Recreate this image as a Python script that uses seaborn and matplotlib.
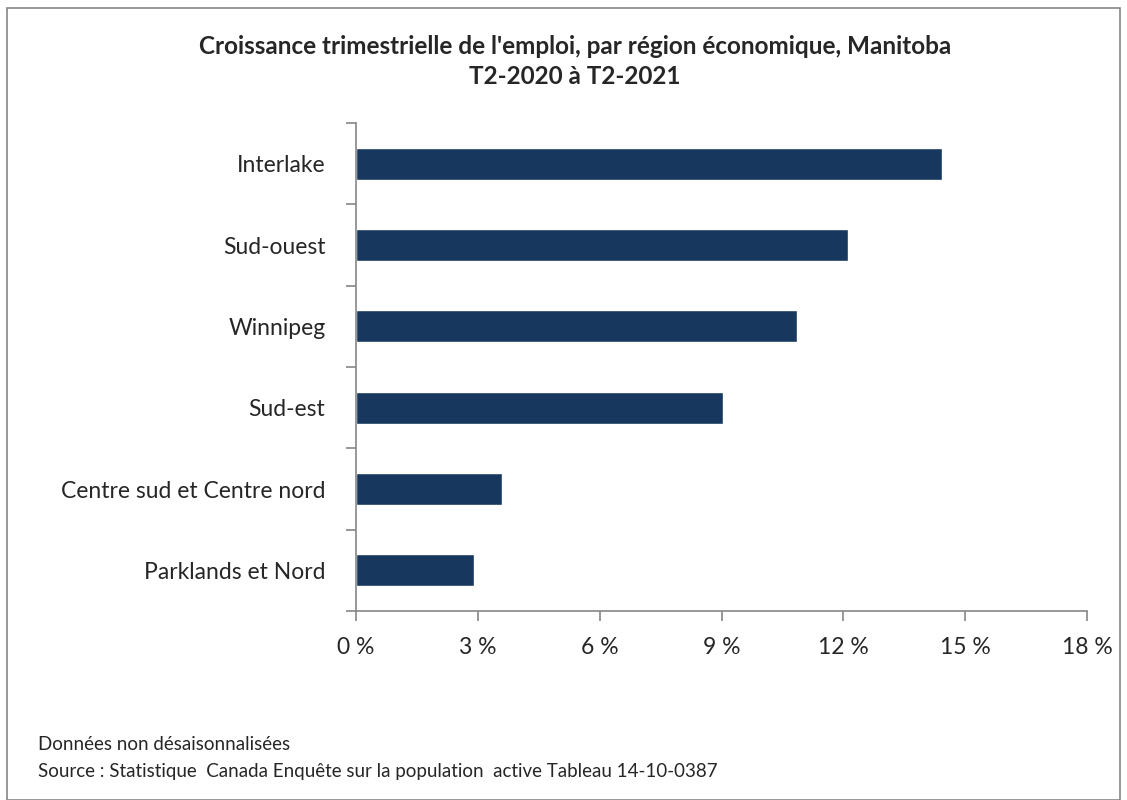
import matplotlib
matplotlib.use('Agg')
import matplotlib.pyplot as plt
import matplotlib.patches as mpatches
import seaborn as sns
import pandas as pd

# Data
regions = ['Interlake', 'Sud-ouest', 'Winnipeg', 'Sud-est',
           'Centre sud et Centre nord', 'Parklands et Nord']
growth = [14.43, 12.11, 10.86, 9.03, 3.59, 2.91]
xticks = [0, 3, 6, 9, 12, 15, 18]

df = pd.DataFrame({'region': regions, 'growth': growth})

sns.set_theme(style='white')
plt.rcParams['font.family'] = ['Lato', 'DejaVu Sans']

fig = plt.figure(figsize=(11.27, 8.0), dpi=100)
ax = fig.add_axes([356 / 1127, 1 - 611 / 800, (1087 - 356) / 1127, (611 - 123) / 800])

sns.barplot(data=df, x='growth', y='region', orient='h', color='#17375E',
            width=0.39, saturation=1, ax=ax)

ax.set_xlim(0, 18)
ax.set_ylim(len(regions) - 0.5, -0.5)
ax.set_xticks(xticks)
ax.set_xticklabels([f'{v} %' for v in xticks], fontsize=16.5)
ax.set_xlabel('')
ax.set_ylabel('')

# category labels, ticks between categories
ax.set_yticks(range(len(regions)))
ax.set_yticklabels(regions, fontsize=16.5)
ax.tick_params(axis='y', length=0, pad=22)
ax.set_yticks([i - 0.5 for i in range(len(regions) + 1)], minor=True)
ax.tick_params(axis='y', which='minor', length=7, width=1.2, color='#868686', left=True)
ax.tick_params(axis='x', length=7, width=1.2, color='#868686', bottom=True, pad=12)

for side in ['top', 'right']:
    ax.spines[side].set_visible(False)
for side in ['left', 'bottom']:
    ax.spines[side].set_color('#868686')
    ax.spines[side].set_linewidth(1.2)

fig.text(575 / 1127, 1 - 46 / 800, "Croissance trimestrielle de l'emploi, par région économique, Manitoba",
         ha='center', va='center', fontsize=17.5, fontweight='bold')
fig.text(575 / 1127, 1 - 77 / 800, 'T2-2020 à T2-2021',
         ha='center', va='center', fontsize=17.5, fontweight='bold')

fig.text(38 / 1127, 1 - 745 / 800, 'Données non désaisonnalisées', ha='left', va='center', fontsize=13.5)
fig.text(38 / 1127, 1 - 771 / 800,
         'Source : Statistique  Canada Enquête sur la population  active Tableau 14-10-0387',
         ha='left', va='center', fontsize=13.5)

# outer chart border
border = mpatches.Rectangle((7 / 1127, 0), 1 - 14 / 1127, 1 - 8 / 800, transform=fig.transFigure,
                            fill=False, edgecolor='#868686', linewidth=1.2)
fig.patches.append(border)

fig.savefig('out.png', dpi=100)
